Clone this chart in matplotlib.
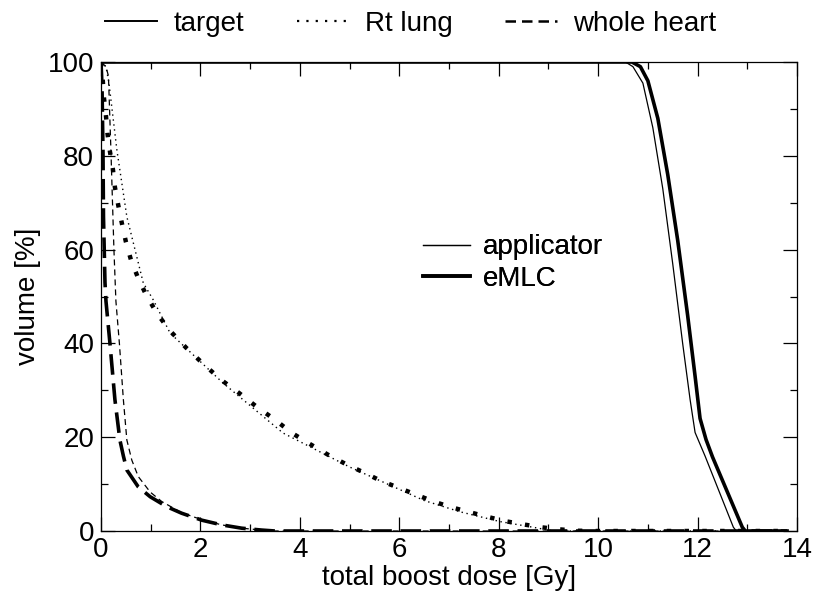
import matplotlib
matplotlib.use("Agg")
import matplotlib.pyplot as plt
from matplotlib.lines import Line2D
from matplotlib.ticker import MultipleLocator

plt.rcParams['font.family'] = ['Liberation Sans', 'DejaVu Sans']

# target DVH (applicator = thin, eMLC = thick)
target_app_x = [0, 10.55, 10.7, 10.9, 11.1, 11.3, 11.5, 11.7, 11.85, 11.95, 12.05, 12.15, 12.72, 12.78, 13.8]
target_app_y = [100, 100, 99, 95.5, 86, 73, 57, 40, 28, 21, 18.5, 16, 0.8, 0, 0]
target_emlc_x = [0, 10.68, 10.85, 11.0, 11.2, 11.4, 11.6, 11.8, 11.95, 12.05, 12.17, 12.3, 12.9, 12.96, 13.8]
target_emlc_y = [100, 100, 99, 96, 88, 76, 62, 46, 33, 24, 19.5, 15.8, 0.8, 0, 0]

# Rt lung DVH
lung_app_x = [0, 0.1, 0.16, 0.32, 0.52, 0.85, 1.05, 1.39, 2.45, 3.66, 5.01, 6.5, 7.22, 8.03, 8.69, 9.1, 13.8]
lung_app_y = [100, 99, 95.5, 81.2, 67.0, 52.9, 49.3, 42.2, 31.6, 20.9, 13.6, 6.5, 4.1, 2.0, 0.8, 0, 0]
lung_emlc_x = [0, 0.03, 0.06, 0.10, 0.13, 0.18, 0.24, 0.28, 0.35, 0.42, 0.50, 0.60, 0.74, 0.91, 1.12, 1.37,
               1.71, 2.06, 2.42, 2.78, 3.13, 3.49, 3.84, 4.21, 4.56, 4.92, 5.28, 5.63, 5.99, 6.35, 6.71,
               7.07, 7.42, 7.78, 8.13, 8.50, 8.85, 9.21, 9.57, 9.9, 13.8]
lung_emlc_y = [100, 97, 92.3, 88.5, 84.8, 80.9, 77.1, 73.3, 69.3, 65.6, 61.7, 57.9, 54.1, 50.3, 46.5, 42.9,
               39.1, 35.6, 32.2, 29.4, 26.5, 23.8, 20.9, 18.5, 16.3, 14.3, 12.5, 10.7, 9.2, 7.7, 6.2,
               5.0, 4.0, 3.0, 2.1, 1.4, 0.8, 0.36, 0.06, 0, 0]

# whole heart DVH
heart_app_x = [0, 0.1, 0.15, 0.2, 0.26, 0.30, 0.37, 0.45, 0.52, 0.62, 0.75, 0.99, 1.22, 1.62, 2.03, 2.43, 2.83, 3.23, 3.5, 13.8]
heart_app_y = [100, 99, 97, 81, 60, 49, 40, 28, 19.4, 15.1, 11.6, 8.3, 6.3, 3.9, 2.4, 1.3, 0.6, 0.2, 0, 0]
heart_emlc_x = [0, 0.02, 0.04, 0.05, 0.08, 0.10, 0.18, 0.28, 0.38, 0.45, 0.52, 0.75, 0.99, 1.32, 1.62, 2.03, 2.43, 2.83, 3.23, 3.5, 13.8]
heart_emlc_y = [100, 95, 81, 67, 53, 49, 40, 28, 19.4, 16, 13, 9.4, 7.3, 5.2, 3.8, 2.3, 1.3, 0.6, 0.2, 0, 0]

x_ticks = [0, 2, 4, 6, 8, 10, 12, 14]
y_ticks = [0, 20, 40, 60, 80, 100]

FS = 20

fig = plt.figure(figsize=(8.16, 5.95), dpi=100)
ax = fig.add_axes([101/816, 1-531/595, 696/816, 469/595])

thin = 0.9
thick = 2.6
ax.plot(target_app_x, target_app_y, color='black', lw=thin, zorder=3)
ax.plot(target_emlc_x, target_emlc_y, color='black', lw=thick, zorder=3)
ax.plot(lung_app_x, lung_app_y, color='black', lw=1.0, linestyle=(0, (1, 2.6)), zorder=3)
ax.plot(lung_emlc_x, lung_emlc_y, color='black', lw=3.2, linestyle=(0, (1, 3.0)), zorder=3)
ax.plot(heart_app_x, heart_app_y, color='black', lw=thin, linestyle=(0, (4.8, 3.2)), zorder=3)
ax.plot(heart_emlc_x, heart_emlc_y, color='black', lw=thick, linestyle=(0, (5.7, 2.4)), zorder=3)

ax.set_xlim(0, 14)
ax.set_ylim(0, 100)
ax.set_xticks(x_ticks)
ax.set_yticks(y_ticks)
ax.xaxis.set_minor_locator(MultipleLocator(1))
ax.yaxis.set_minor_locator(MultipleLocator(10))
ax.tick_params(which='both', direction='in', top=True, right=True, width=0.9, labelsize=FS)
ax.tick_params(which='major', length=10)
ax.tick_params(which='minor', length=5)
ax.tick_params(axis='x', which='major', pad=4)
ax.tick_params(axis='y', which='major', pad=5)
for s in ax.spines.values():
    s.set_linewidth(0.9)

ax.set_xlabel('total boost dose [Gy]', fontsize=FS, labelpad=2)
ax.set_ylabel('volume [%]', fontsize=FS, labelpad=5)

# inner legend: applicator / eMLC
h_in = [Line2D([], [], color='black', lw=thin), Line2D([], [], color='black', lw=thick)]
leg_in = ax.legend(h_in, ['applicator', 'eMLC'], loc='center left',
                   bbox_to_anchor=((409 - 101) / 696, (531 - 263) / 469),
                   frameon=False, fontsize=FS, handlelength=1.7, handletextpad=0.45,
                   labelspacing=0.18, borderpad=0)
ax.add_artist(leg_in)

# top legend: structures
h_top = [Line2D([], [], color='black', lw=1.4),
         Line2D([], [], color='black', lw=1.6, linestyle=(0, (1, 3.2))),
         Line2D([], [], color='black', lw=1.8, linestyle=(0, (4.2, 2.4)))]
fig.legend(h_top, ['target', 'Rt lung', 'whole heart'], loc='center',
           bbox_to_anchor=(411 / 816, 1 - 24 / 595), ncol=3, frameon=False,
           fontsize=FS, handlelength=1.85, handletextpad=0.6, columnspacing=1.9,
           borderpad=0)

fig.savefig('out.png', dpi=100)
